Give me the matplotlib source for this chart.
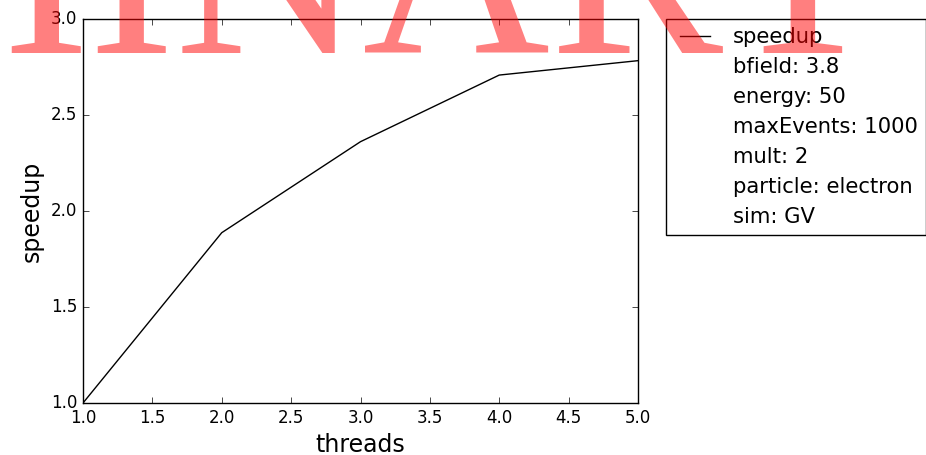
import matplotlib
matplotlib.use("Agg")
import matplotlib.pyplot as plt
from matplotlib.lines import Line2D

plt.style.use("classic")

threads = [1, 2, 3, 4, 5]
speedup = [1.0, 1.887, 2.361, 2.708, 2.783]
run_settings = [
    "bfield: 3.8",
    "energy: 50",
    "maxEvents: 1000",
    "mult: 2",
    "particle: electron",
    "sim: GV",
]

fig = plt.figure(figsize=(9.26, 4.55), dpi=100)
ax = fig.add_axes([83 / 926, 1 - 403 / 455, (638 - 83) / 926, (403 - 19) / 455])

line, = ax.plot(threads, speedup, color="black", lw=1, label="speedup")
ax.set_xlim(1.0, 5.0)
ax.set_ylim(1.0, 3.0)
ax.set_xlabel("threads", fontsize=17)
ax.set_ylabel("speedup", fontsize=17)
ax.tick_params(labelsize=12)

handles = [line] + [Line2D([], [], linestyle="none") for _ in run_settings]
labels = ["speedup"] + run_settings
ax.legend(handles, labels, loc="upper left", bbox_to_anchor=(1.05, 1.0),
          borderaxespad=0.0, fontsize=15.2, numpoints=2,
          labelspacing=0.47, borderpad=0.38)

fig.text(897 / 926, 1 - 53 / 455, "PRELIMINARY", color="red", alpha=0.5,
         fontsize=187, family="Liberation Serif", ha="right", va="baseline")

fig.savefig("out.png", dpi=100)
